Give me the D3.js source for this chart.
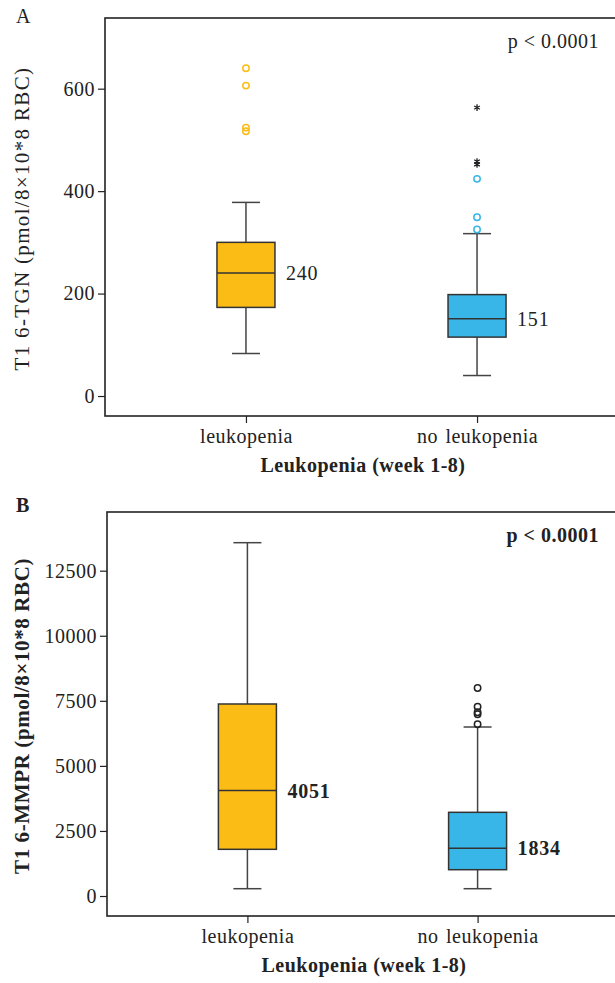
<!DOCTYPE html>
<html>
<head>
<meta charset="utf-8">
<script src="https://cdn.jsdelivr.net/npm/d3@7"></script>
<style>
  body { margin: 0; background: #fff; }
  svg { display: block; font-family: "Liberation Serif", "DejaVu Serif", serif; }
  svg text { letter-spacing: 0.5px; word-spacing: 0px; }
</style>
</head>
<body>
<div id="chart"></div>
<script>
// categories
var groups = ["leukopenia", "no leukopenia"];
var boxColors = ["#fbbc15", "#38b6e7"];

// panel A: T1 6-TGN
var tgnLow = [83, 40];
var tgnQ1 = [173, 115];
var tgnMedian = [240, 151];
var tgnQ3 = [300, 198];
var tgnHigh = [378, 317];
var tgnOutliers = [[640, 606, 524, 517], [325, 349, 424]];
var tgnExtremes = [[], [563, 458, 452]];
var tgnTicks = [0, 200, 400, 600];

// panel B: T1 6-MMPR
var mmprLow = [281, 281];
var mmprQ1 = [1794, 1011];
var mmprMedian = [4051, 1834];
var mmprQ3 = [7378, 3216];
var mmprHigh = [13576, 6494];
var mmprOutliers = [[], [7993, 7274, 7059, 6982, 6598]];
var mmprTicks = [0, 2500, 5000, 7500, 10000, 12500];

var W = 615, H = 983;
var svg = d3.select("#chart").append("svg")
    .attr("width", W)
    .attr("height", H);

function drawPanel(opt) {
  var g = svg.append("g");
  var left = opt.left, top = opt.top, bottom = opt.bottom, right = 618;
  var fw = opt.bold ? "bold" : "normal";

  var x = d3.scalePoint()
      .domain(groups)
      .range([left, right])
      .padding(0.61);

  var y = d3.scaleLinear()
      .domain(opt.domain)
      .range([bottom, top]);

  // frame (right side runs off the page)
  g.append("rect")
      .attr("x", left).attr("y", top)
      .attr("width", right - left).attr("height", bottom - top)
      .attr("fill", "none")
      .attr("stroke", "#222")
      .attr("stroke-width", 1.6);

  // y axis
  var ya = g.append("g")
      .attr("transform", "translate(" + left + ",0)")
      .call(d3.axisLeft(y).tickValues(opt.ticks).tickSize(7).tickPadding(3).tickFormat(d3.format("d")));
  ya.select(".domain").remove();
  ya.selectAll("line").attr("stroke", "#222").attr("stroke-width", 1.2);
  ya.selectAll("text").attr("fill", "#222").style("font-size", "20px")
      .style("font-family", "'Liberation Serif', serif");

  // x axis
  var xa = g.append("g")
      .attr("transform", "translate(0," + bottom + ")")
      .call(d3.axisBottom(x).tickSize(7).tickPadding(6));
  xa.select(".domain").remove();
  xa.selectAll("line").attr("stroke", "#222").attr("stroke-width", 1.2);
  xa.selectAll("text").attr("fill", "#222").style("font-size", "20px")
      .style("font-family", "'Liberation Serif', serif")
      .style("word-spacing", "2px");

  // axis titles
  g.append("text")
      .attr("x", (left + W) / 2 + 3)
      .attr("y", bottom + 56)
      .attr("text-anchor", "middle")
      .style("font-size", "20px")
      .style("font-weight", "bold")
      .attr("fill", "#222")
      .text("Leukopenia (week 1-8)");

  g.append("text")
      .attr("transform", "translate(" + opt.ylabelX + "," + ((top + bottom) / 2 + 2) + ") rotate(-90)")
      .attr("text-anchor", "middle")
      .attr("textLength", opt.ylabelLen)
      .attr("lengthAdjust", "spacing")
      .style("font-size", "21px")
      .style("font-weight", fw)
      .attr("fill", "#222")
      .text(opt.ylabel);

  // panel letter
  g.append("text")
      .attr("x", 16).attr("y", top + (opt.bold ? 0 : 5))
      .style("font-size", "20px")
      .style("font-weight", fw)
      .attr("fill", "#222")
      .text(opt.letter);

  // p value
  g.append("text")
      .attr("x", 599).attr("y", top + 30)
      .attr("text-anchor", "end")
      .style("font-size", "20px")
      .style("font-weight", fw)
      .attr("fill", "#222")
      .text("p < 0.0001");

  var boxW = 58, capW = 28;
  var boxes = groups.map(function(k, i) {
    return { key: k, i: i, low: opt.low[i], q1: opt.q1[i], med: opt.median[i],
             q3: opt.q3[i], high: opt.high[i] };
  });

  var b = g.selectAll(".box").data(boxes).enter().append("g").attr("class", "box");

  // whisker stems
  b.append("line")
      .attr("x1", function(d) { return x(d.key); })
      .attr("x2", function(d) { return x(d.key); })
      .attr("y1", function(d) { return y(d.high); })
      .attr("y2", function(d) { return y(d.low); })
      .attr("stroke", "#444").attr("stroke-width", 1.5);
  // caps
  ["high", "low"].forEach(function(f) {
    b.append("line")
        .attr("x1", function(d) { return x(d.key) - capW / 2; })
        .attr("x2", function(d) { return x(d.key) + capW / 2; })
        .attr("y1", function(d) { return y(d[f]); })
        .attr("y2", function(d) { return y(d[f]); })
        .attr("stroke", "#444").attr("stroke-width", 1.5);
  });
  // box
  b.append("rect")
      .attr("x", function(d) { return x(d.key) - boxW / 2; })
      .attr("y", function(d) { return y(d.q3); })
      .attr("width", boxW)
      .attr("height", function(d) { return y(d.q1) - y(d.q3); })
      .attr("fill", function(d) { return boxColors[d.i]; })
      .attr("stroke", "#333").attr("stroke-width", 1.5);
  // median
  b.append("line")
      .attr("x1", function(d) { return x(d.key) - boxW / 2; })
      .attr("x2", function(d) { return x(d.key) + boxW / 2; })
      .attr("y1", function(d) { return y(d.med); })
      .attr("y2", function(d) { return y(d.med); })
      .attr("stroke", "#333").attr("stroke-width", 1.5);
  // median label
  b.append("text")
      .attr("x", function(d) { return x(d.key) + boxW / 2 + 11; })
      .attr("y", function(d) { return y(d.med); })
      .attr("dy", "0.35em")
      .style("font-size", "20px")
      .style("font-weight", fw)
      .style("letter-spacing", "0.8px")
      .attr("fill", "#222")
      .text(function(d) { return d.med; });

  // outlier circles
  var outs = [];
  opt.outliers.forEach(function(arr, i) {
    arr.forEach(function(v) { outs.push({ key: groups[i], i: i, v: v }); });
  });
  g.selectAll(".out").data(outs).enter().append("circle")
      .attr("class", "out")
      .attr("cx", function(d) { return x(d.key); })
      .attr("cy", function(d) { return y(d.v); })
      .attr("r", 3.2)
      .attr("fill", "none")
      .attr("stroke", function(d) { return opt.outColor ? opt.outColor : boxColors[d.i]; })
      .attr("stroke-width", 1.5);

  // extreme values (stars)
  var ext = [];
  (opt.extremes || []).forEach(function(arr, i) {
    arr.forEach(function(v) { ext.push({ key: groups[i], v: v }); });
  });
  g.selectAll(".ext").data(ext).enter().append("path")
      .attr("class", "ext")
      .attr("transform", function(d) { return "translate(" + x(d.key) + "," + y(d.v) + ")"; })
      .attr("d", d3.symbol(d3.symbolAsterisk, 30))
      .attr("fill", "none")
      .attr("stroke", "#222")
      .attr("stroke-width", 1.3);
}

drawPanel({
  letter: "A", bold: false, left: 105, top: 18, bottom: 416,
  domain: [-39, 738], ticks: tgnTicks,
  ylabel: "T1 6-TGN (pmol/8\u00d710*8 RBC)", ylabelX: 29, ylabelLen: 303,
  low: tgnLow, q1: tgnQ1, median: tgnMedian, q3: tgnQ3, high: tgnHigh,
  outliers: tgnOutliers, extremes: tgnExtremes
});

drawPanel({
  letter: "B", bold: true, left: 107, top: 512, bottom: 916,
  domain: [-768, 14755], ticks: mmprTicks,
  ylabel: "T1 6-MMPR (pmol/8\u00d710*8 RBC)", ylabelX: 29, ylabelLen: 316,
  low: mmprLow, q1: mmprQ1, median: mmprMedian, q3: mmprQ3, high: mmprHigh,
  outliers: mmprOutliers, extremes: [[], []], outColor: "#222"
});
</script>
</body>
</html>
